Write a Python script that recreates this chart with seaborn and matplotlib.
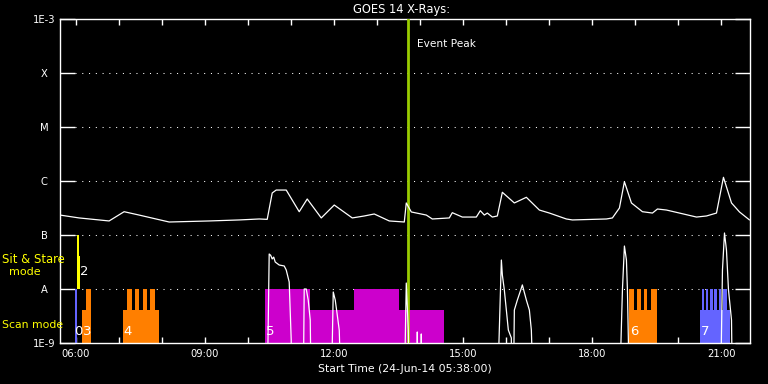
import matplotlib
matplotlib.use('Agg')
import matplotlib.pyplot as plt
import seaborn as sns

# GOES 14 long channel (1-8 A), hours of 24-Jun-14, W/m^2
xrs_b_time = [5.633, 6.077, 6.542, 6.774, 7.123, 7.472, 8.170, 9.100, 9.798, 10.263,
              10.449, 10.565, 10.658, 10.891, 11.193, 11.379, 11.705, 12.007, 12.426,
              12.705, 12.937, 13.286, 13.635, 13.681, 13.798, 14.147, 14.286, 14.681,
              14.751, 14.984, 15.309, 15.402, 15.495, 15.565, 15.681, 15.798, 15.914,
              16.193, 16.472, 16.774, 17.007, 17.402, 17.542, 18.333, 18.472, 18.635,
              18.751, 18.914, 19.170, 19.403, 19.519, 19.728, 20.030, 20.426, 20.658,
              20.891, 21.053, 21.240, 21.426, 21.658]
xrs_b_flux = [2.34e-7, 2.07e-7, 1.90e-7, 1.82e-7, 2.70e-7, 2.34e-7, 1.74e-7, 1.82e-7, 1.90e-7, 1.98e-7,
              1.95e-7, 6.0e-7, 6.8e-7, 6.8e-7, 2.70e-7, 4.64e-7, 2.07e-7, 3.59e-7, 2.07e-7,
              2.25e-7, 2.45e-7, 1.82e-7, 1.74e-7, 3.92e-7, 2.67e-7, 2.34e-7, 1.98e-7, 2.07e-7,
              2.59e-7, 2.15e-7, 2.15e-7, 2.82e-7, 2.34e-7, 2.55e-7, 2.15e-7, 2.25e-7, 6.18e-7,
              3.92e-7, 4.99e-7, 2.90e-7, 2.55e-7, 1.98e-7, 1.90e-7, 1.98e-7, 2.07e-7, 3.16e-7,
              9.7e-7, 3.92e-7, 2.70e-7, 2.55e-7, 3.03e-7, 2.90e-7, 2.55e-7, 2.15e-7, 2.25e-7,
              2.55e-7, 1.17e-6, 3.92e-7, 2.67e-7, 1.90e-7]

# short channel (0.5-4 A), 1e-10 = below the plotted range
xrs_a_time = [5.633, 10.449, 10.495, 10.530, 10.565, 10.600, 10.635, 10.728, 10.844, 10.891,
              10.960, 11.007, 11.010, 11.286, 11.309, 11.356, 11.402, 11.449, 11.472,
              11.937, 11.984, 12.030, 12.077, 12.123, 12.170, 13.635, 13.681, 13.728,
              13.751, 13.925, 13.937, 13.950, 14.020, 14.030, 14.040, 15.798, 15.891,
              15.914, 15.960, 16.007, 16.030, 16.053, 16.123, 16.130, 16.170, 16.193,
              16.263, 16.356, 16.379, 16.472, 16.542, 16.588, 16.635, 18.635, 18.705,
              18.751, 18.798, 18.821, 18.868, 20.984, 21.030, 21.077, 21.123, 21.170,
              21.240, 21.263, 21.660]
xrs_a_flux = [1e-10, 1e-10, 4.45e-8, 4.2e-8, 3.6e-8, 3.9e-8, 3.16e-8, 2.78e-8, 2.67e-8, 2.25e-8,
              1.35e-8, 1.14e-9, 1e-10, 1e-10, 1e-8, 1e-8, 6.25e-9, 2.67e-9, 1e-10,
              1e-10, 8.8e-9, 6.25e-9, 3.3e-9, 1.74e-9, 1e-10, 1e-10, 1.29e-8, 1.74e-9,
              1e-10, 1e-10, 1.6e-9, 1e-10, 1e-10, 1.47e-9, 1e-10, 1e-10, 3.44e-8,
              1.82e-8, 9.6e-9, 4.08e-9, 2.67e-9, 1.74e-9, 1.24e-9, 1e-10, 1e-10, 4.08e-9,
              6.25e-9, 1.04e-8, 1.19e-8, 6.25e-9, 4.08e-9, 1.74e-9, 1e-10, 1e-10, 9.6e-9,
              6.25e-8, 3.44e-8, 9.6e-9, 1e-10, 1e-10, 2.25e-8, 1.09e-7, 5.27e-8, 9.6e-9,
              2.67e-9, 1e-10, 1e-10]

# IRIS observations: step edges (hours) and bar tops
obs0_edges = [5.984, 6.037]
obs0_levels = [1e-8]
obs2_edges = [6.030, 6.077, 6.107]
obs2_levels = [1e-7, 4.1e-8]
obs3_edges = [6.140, 6.233, 6.349]
obs3_levels = [4.1e-9, 1e-8]
obs4_edges = [7.100, 7.193, 7.302, 7.379, 7.479, 7.565, 7.658, 7.728, 7.844, 7.937]
obs4_levels = [4.1e-9, 1e-8, 4.1e-9, 1e-8, 4.1e-9, 1e-8, 4.1e-9, 1e-8, 4.1e-9]
obs5_edges = [10.402, 11.449, 12.472, 13.519, 14.565]
obs5_levels = [1e-8, 4.1e-9, 1e-8, 4.1e-9]
obs6_edges = [18.868, 18.984, 19.054, 19.140, 19.217, 19.286, 19.372, 19.512]
obs6_levels = [1e-8, 4.1e-9, 1e-8, 4.1e-9, 1e-8, 4.1e-9, 1e-8]
obs7_edges = [20.519, 20.558, 20.612, 20.651, 20.705, 20.751, 20.805, 20.844, 20.898,
              20.944, 21.000, 21.037, 21.130, 21.216]
obs7_levels = [4.1e-9, 1e-8, 4.1e-9, 1e-8, 4.1e-9, 1e-8, 4.1e-9, 1e-8, 4.1e-9, 1e-8,
               4.1e-9, 1e-8, 4.1e-9]

event_peak = 13.717
start_time = 5.633

y_ticks = [1e-9, 1e-8, 1e-7, 1e-6, 1e-5, 1e-4, 1e-3]
y_labels = ['1E-9', 'A', 'B', 'C', 'M', 'X', '1E-3']
x_ticks = [6, 9, 12, 15, 18, 21]
x_labels = ['06:00', '09:00', '12:00', '15:00', '18:00', '21:00']
x_minor = list(range(6, 22))

sns.set_theme(style='dark', rc={'axes.facecolor': 'black', 'figure.facecolor': 'black',
                                'savefig.facecolor': 'black', 'text.color': 'white',
                                'xtick.color': 'white', 'ytick.color': 'white',
                                'axes.edgecolor': 'white'})
plt.rcParams['font.family'] = ['DejaVu Sans']

fig = plt.figure(figsize=(7.68, 3.84), dpi=100)
ax = fig.add_axes([60 / 768, 41 / 384, 690 / 768, 324 / 384])
ax.set_yscale('log')
ax.set_ylim(1e-9, 1e-3)
ax.set_xlim(start_time, 21.67)

# dotted class levels
for lev in y_ticks[1:-1]:
    ax.axhline(lev, xmin=15 / 690, xmax=675 / 690, color='white', lw=0.75,
               ls=(0, (1, 5.5)), zorder=1)

blue, yellow, orange, magenta = '#6464ff', '#ffff00', '#ff7f00', '#cc00cc'
scan = [('0', obs0_edges, obs0_levels, blue, -0.012), ('3', obs3_edges, obs3_levels, orange, 0.02),
        ('4', obs4_edges, obs4_levels, orange, 0.015), ('5', obs5_edges, obs5_levels, magenta, 0.015),
        ('6', obs6_edges, obs6_levels, orange, 0.015), ('7', obs7_edges, obs7_levels, blue, 0.015)]
for name, edges, levels, col, dx in scan:
    ax.stairs(levels, edges, baseline=1e-9, fill=True, color=col, lw=0, zorder=2)
    ax.text(edges[0] + dx, 1.6e-9, name, color='white', fontsize=9.5,
            ha='left', va='center', zorder=5)
ax.stairs(obs2_levels, obs2_edges, baseline=1e-8, fill=True, color=yellow, lw=0, zorder=2)
ax.text(obs2_edges[0] + 0.06, 2.1e-8, '2', color='white', fontsize=9.5,
        ha='left', va='center', zorder=5)

sns.lineplot(x=xrs_b_time, y=xrs_b_flux, ax=ax, color='white', lw=0.9,
             estimator=None, zorder=4)
sns.lineplot(x=xrs_a_time, y=xrs_a_flux, ax=ax, color='white', lw=0.9,
             estimator=None, zorder=4)

ax.axvline(event_peak, color='#99cc00', lw=2, zorder=3)
ax.text(event_peak + 0.22, 10 ** (-3 - 28 / 54), 'Event Peak', color='white',
        fontsize=7.6, ha='left', va='baseline')

ax.yaxis.set_minor_locator(matplotlib.ticker.NullLocator())
ax.set_yticks(y_ticks, y_labels, ha='center')
ax.set_xticks(x_ticks, x_labels)
ax.set_xticks(x_minor, minor=True)
ax.tick_params(axis='y', which='major', direction='in', length=10.8, width=1,
               right=True, left=True, pad=11.5, labelsize=7.2)
ax.tick_params(axis='x', which='both', direction='in', length=4.3, width=1,
               top=True, bottom=True, pad=4.5, labelsize=7.2)
ax.grid(False)
for sp in ax.spines.values():
    sp.set_color('white')
    sp.set_linewidth(1)
    sp.set_visible(True)

fig.text(402 / 768, 1 - 13.5 / 384, 'GOES 14 X-Rays:', color='white', fontsize=8.3,
         ha='center', va='baseline')
fig.text(405 / 768, 1 - 371.7 / 384, 'Start Time (24-Jun-14 05:38:00)', color='white',
         fontsize=7.8, ha='center', va='baseline')
fig.text(2 / 768, 1 - 263 / 384, 'Sit & Stare', color=yellow, fontsize=8.4,
         ha='left', va='baseline')
fig.text(24.5 / 768, 1 - 275 / 384, 'mode', color=yellow, fontsize=8.0,
         ha='center', va='baseline')
fig.text(2 / 768, 1 - 328 / 384, 'Scan mode', color=yellow, fontsize=7.8,
         ha='left', va='baseline')

fig.savefig('out.png', dpi=100, facecolor='black')
